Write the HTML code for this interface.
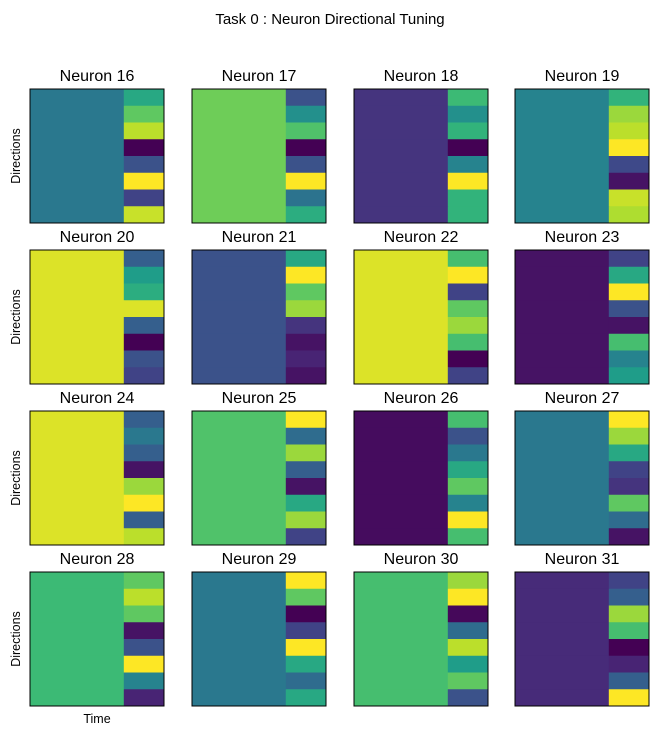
<!DOCTYPE html>
<html><head><meta charset="utf-8"><style>
body{margin:0;background:#fff;}
svg text{font-family:"Liberation Sans","DejaVu Sans",sans-serif;fill:#000;}
</style></head><body>
<svg id="fig" width="663" height="735" viewBox="0 0 663 735" xmlns="http://www.w3.org/2000/svg">
<text x="330" y="24" font-size="15" text-anchor="middle">Task 0 : Neuron Directional Tuning</text>
<g id="plots"></g>
</svg>
<script>
const neurons = [16,17,18,19,20,21,22,23,24,25,26,27,28,29,30,31];
const baseLevel = [0.40,0.78,0.15,0.45,0.95,0.25,0.95,0.05,0.95,0.72,0.03,0.40,0.68,0.40,0.70,0.12];
const stimResponse = [
 [0.6,0.75,0.9,0.0,0.25,1.0,0.2,0.92],
 [0.25,0.5,0.72,0.0,0.25,1.0,0.38,0.62],
 [0.68,0.5,0.65,0.0,0.45,1.0,0.65,0.65],
 [0.65,0.85,0.9,1.0,0.22,0.05,0.92,0.88],
 [0.3,0.55,0.62,0.95,0.3,0.0,0.25,0.2],
 [0.6,1.0,0.75,0.85,0.15,0.05,0.1,0.05],
 [0.7,1.0,0.2,0.75,0.85,0.7,0.0,0.2],
 [0.2,0.6,1.0,0.25,0.05,0.7,0.45,0.55],
 [0.3,0.4,0.3,0.05,0.85,1.0,0.3,0.9],
 [1.0,0.35,0.85,0.3,0.05,0.6,0.85,0.2],
 [0.7,0.25,0.4,0.6,0.75,0.45,1.0,0.7],
 [1.0,0.85,0.6,0.2,0.15,0.75,0.35,0.05],
 [0.75,0.9,0.75,0.05,0.25,1.0,0.45,0.1],
 [1.0,0.75,0.0,0.2,1.0,0.6,0.35,0.6],
 [0.85,1.0,0.02,0.35,0.9,0.55,0.75,0.25],
 [0.2,0.3,0.85,0.7,0.0,0.1,0.3,1.0]
];
const stops=[[68,1,84],[72,40,120],[62,74,137],[49,104,142],[38,130,142],[31,158,137],[53,183,121],[109,205,89],[180,222,44],[253,231,37]];
function viridis(v){v=Math.max(0,Math.min(1,v));const t=v*(stops.length-1);const i=Math.min(Math.floor(t),stops.length-2);const f=t-i;
 const c=stops[i].map((a,k)=>Math.round(a+(stops[i+1][k]-a)*f));return `rgb(${c[0]},${c[1]},${c[2]})`;}
const NS="http://www.w3.org/2000/svg";
const g=document.getElementById('plots');
const colX=[30,192,354,515], rowY=[89,250,411,572], W=134, H=134, split=0.7;
function mk(tag,attrs,parent){const e=document.createElementNS(NS,tag);for(const k in attrs)e.setAttribute(k,attrs[k]);parent.appendChild(e);return e;}
neurons.forEach((n,idx)=>{
 const x0=colX[idx%4], y0=rowY[Math.floor(idx/4)];
 const grp=mk('g',{},g);
 
 
 const rh=H/8;
 stimResponse[idx].forEach((v,r)=>{
  const a=mk('rect',{x:x0,y:y0+r*rh,width:W*split+0.5,height:rh+0.5,fill:viridis(baseLevel[idx])},grp);
  
  
  const b=mk('rect',{x:x0+W*split,y:y0+r*rh,width:W*(1-split),height:rh+0.5,fill:viridis(v)},grp);
  
  
 });
 const fr=mk('rect',{x:x0,y:y0,width:W,height:H,fill:'none',stroke:'#000','stroke-width':1},grp);
 
 
 const t=mk('text',{x:x0+W/2,y:y0-8,'font-size':16,'text-anchor':'middle'},grp);
 t.textContent='Neuron '+n;
 
 
 if(idx%4===0){
  const yl=mk('text',{x:0,y:0,'font-size':12.5,'text-anchor':'middle',transform:`translate(20,${y0+H/2}) rotate(-90)`},grp);
  yl.textContent='Directions';
  
  
 }
});
const tl=mk('text',{x:97,y:723,'font-size':12.5,'text-anchor':'middle'},g);
tl.textContent='Time';


</script>
</body></html>
